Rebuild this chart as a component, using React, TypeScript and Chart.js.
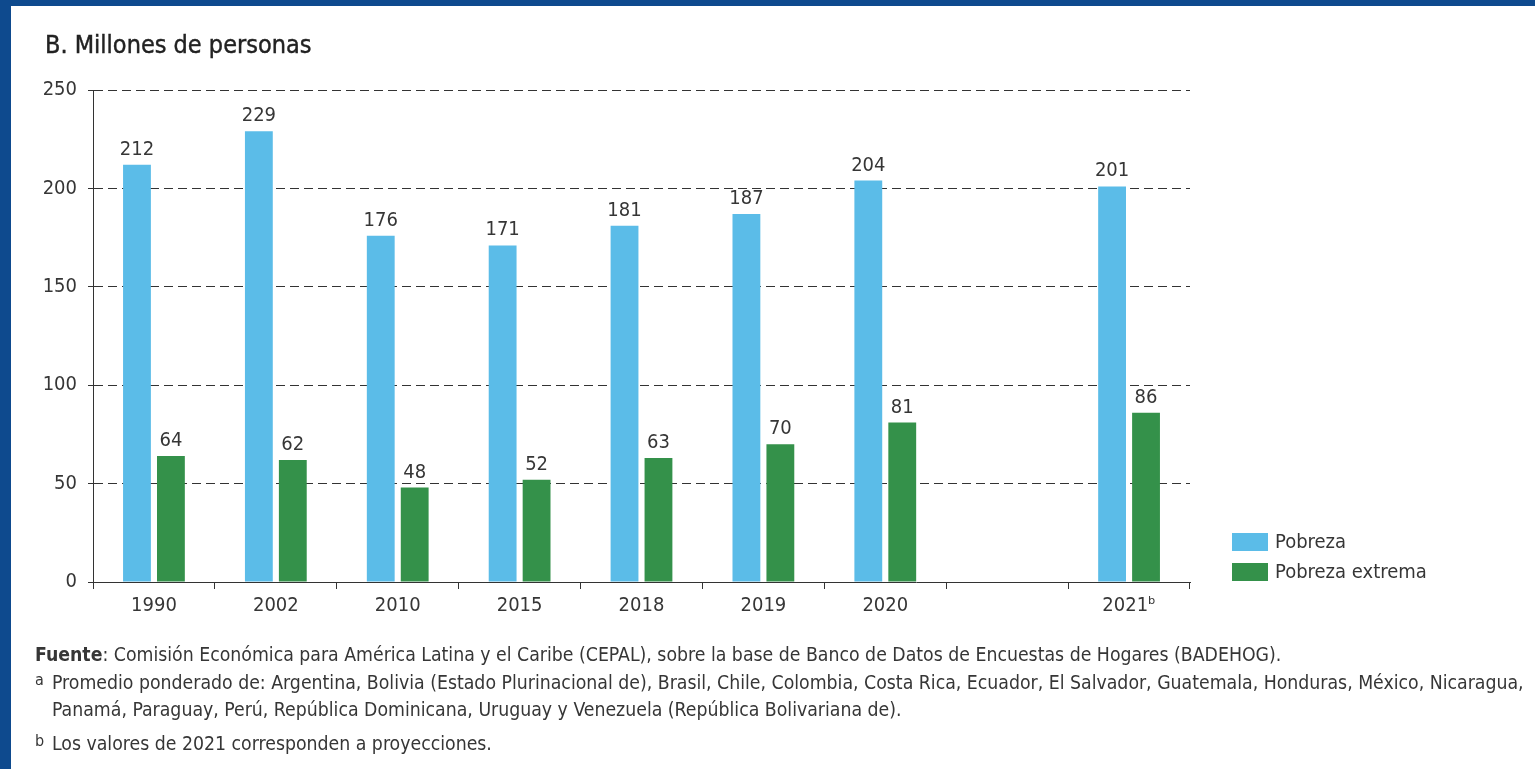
import React, { useEffect, useRef } from "react";
import { Chart, registerables } from "chart.js";

Chart.register(...registerables);

const FONT = '"DejaVu Sans Condensed", "Liberation Sans Narrow", sans-serif';
const TEXT = "#363636";
const FRAME = "#0E4A8E";

const categories = ["1990", "2002", "2010", "2015", "2018", "2019", "2020", "", "2021ᵇ"];
const pobreza = [212, 229, 176, 171, 181, 187, 204, null, 201];
const pobrezaExtrema = [64, 62, 48, 52, 63, 70, 81, null, 86];
const yTicks = [0, 50, 100, 150, 200, 250];
const seriesNames = ["Pobreza", "Pobreza extrema"];
const seriesColors = ["#5BBCE8", "#34914A"];

const valueLabels = {
  id: "valueLabels",
  afterDatasetsDraw(chart: any) {
    const ctx = chart.ctx;
    ctx.save();
    ctx.font = `20px ${FONT}`;
    ctx.fillStyle = TEXT;
    ctx.textAlign = "center";
    ctx.textBaseline = "alphabetic";
    chart.data.datasets.forEach((ds: any, i: number) => {
      const meta = chart.getDatasetMeta(i);
      meta.data.forEach((el: any, j: number) => {
        const v = ds.data[j];
        if (v == null) return;
        ctx.fillText(String(v), el.x, el.y - 10);
      });
    });
    ctx.restore();
  },
};

const sideLegend = {
  id: "sideLegend",
  afterDraw(chart: any) {
    const { ctx, chartArea } = chart;
    const x = chartArea.right + 42;
    const boxW = 36;
    const boxH = 18;
    const rowH = 30;
    const n = chart.data.datasets.length;
    ctx.save();
    ctx.font = `20px ${FONT}`;
    ctx.textBaseline = "middle";
    ctx.textAlign = "left";
    chart.data.datasets.forEach((ds: any, i: number) => {
      const top = chartArea.bottom - boxH - (n - 1 - i) * rowH - 1;
      ctx.fillStyle = ds.backgroundColor;
      ctx.fillRect(x, top, boxW, boxH);
      ctx.fillStyle = TEXT;
      ctx.fillText(ds.label, x + boxW + 7, top + boxH / 2 + 1);
    });
    ctx.restore();
  },
};

export default function App() {
  const canvasRef = useRef<HTMLCanvasElement | null>(null);

  useEffect(() => {
    const canvas = canvasRef.current;
    if (!canvas) return;
    const chart = new Chart(canvas, {
      type: "bar",
      data: {
        labels: categories,
        datasets: [
          {
            label: seriesNames[0],
            data: pobreza,
            backgroundColor: seriesColors[0],
            categoryPercentage: 0.557,
            barPercentage: 0.82,
          },
          {
            label: seriesNames[1],
            data: pobrezaExtrema,
            backgroundColor: seriesColors[1],
            categoryPercentage: 0.557,
            barPercentage: 0.82,
          },
        ],
      } as any,
      options: {
        responsive: false,
        maintainAspectRatio: false,
        animation: false,
        layout: { padding: { left: 43, right: 345, top: 90, bottom: 147 } },
        plugins: {
          legend: { display: false },
          tooltip: { enabled: false },
          title: { display: false },
        },
        scales: {
          x: {
            grid: {
              display: true,
              drawOnChartArea: false,
              drawTicks: true,
              tickLength: 7,
              color: "#333333",
              offset: true,
            },
            border: { color: "#333333", width: 1 },
            ticks: {
              color: TEXT,
              font: { family: FONT, size: 20 },
              padding: 5,
              maxRotation: 0,
              autoSkip: false,
            },
            afterFit: (s: any) => {
              s.height = 40;
            },
          },
          y: {
            min: 0,
            max: 250,
            afterBuildTicks: (s: any) => {
              s.ticks = yTicks.map((v) => ({ value: v }));
            },
            grid: { color: "#333333", tickLength: 5, lineWidth: 1 },
            border: { color: "#333333", width: 1, dash: [9, 5] },
            ticks: {
              color: TEXT,
              font: { family: FONT, size: 20 },
              padding: 11,
            },
            afterFit: (s: any) => {
              s.width = 50;
            },
          },
        },
      } as any,
      plugins: [valueLabels, sideLegend],
    });
    return () => chart.destroy();
  }, []);

  const line = (baseline: number, size: number) => ({
    position: "absolute" as const,
    left: 35,
    top: baseline - 0.87 * size,
    fontFamily: FONT,
    fontSize: size,
    lineHeight: `${size}px`,
    color: TEXT,
    whiteSpace: "nowrap" as const,
  });

  const sup = {
    display: "inline-block",
    width: 17,
    fontSize: 16,
    verticalAlign: "4px",
  };

  return (
    <div
      style={{
        position: "fixed",
        left: 0,
        top: 0,
        width: 1535,
        height: 769,
        background: FRAME,
        overflow: "hidden",
      }}
    >
      <div
        style={{
          position: "absolute",
          left: 11,
          top: 6,
          width: 1524,
          height: 763,
          background: "#ffffff",
        }}
      />
      <canvas
        ref={canvasRef}
        width={1535}
        height={769}
        style={{ position: "absolute", left: 0, top: 0, width: 1535, height: 769, display: "block" }}
      />
      <div style={{ ...line(54, 25), left: 45, color: "#222222", WebkitTextStroke: "0.4px #222222" }}>
        B. Millones de personas
      </div>
      <div style={line(662, 19.3)}>
        <b>Fuente</b>: Comisión Económica para América Latina y el Caribe (CEPAL), sobre la base de Banco de Datos de
        Encuestas de Hogares (BADEHOG).
      </div>
      <div style={line(687, 19.3)}>
        <span style={sup}>a</span>Promedio ponderado de: Argentina, Bolivia (Estado Plurinacional de), Brasil, Chile,
        Colombia, Costa Rica, Ecuador, El Salvador, Guatemala, Honduras, México, Nicaragua,
      </div>
      <div style={{ ...line(717, 19.3), left: 52 }}>
        Panamá, Paraguay, Perú, República Dominicana, Uruguay y Venezuela (República Bolivariana de).
      </div>
      <div style={line(748, 19.3)}>
        <span style={sup}>b</span>Los valores de 2021 corresponden a proyecciones.
      </div>
    </div>
  );
}
